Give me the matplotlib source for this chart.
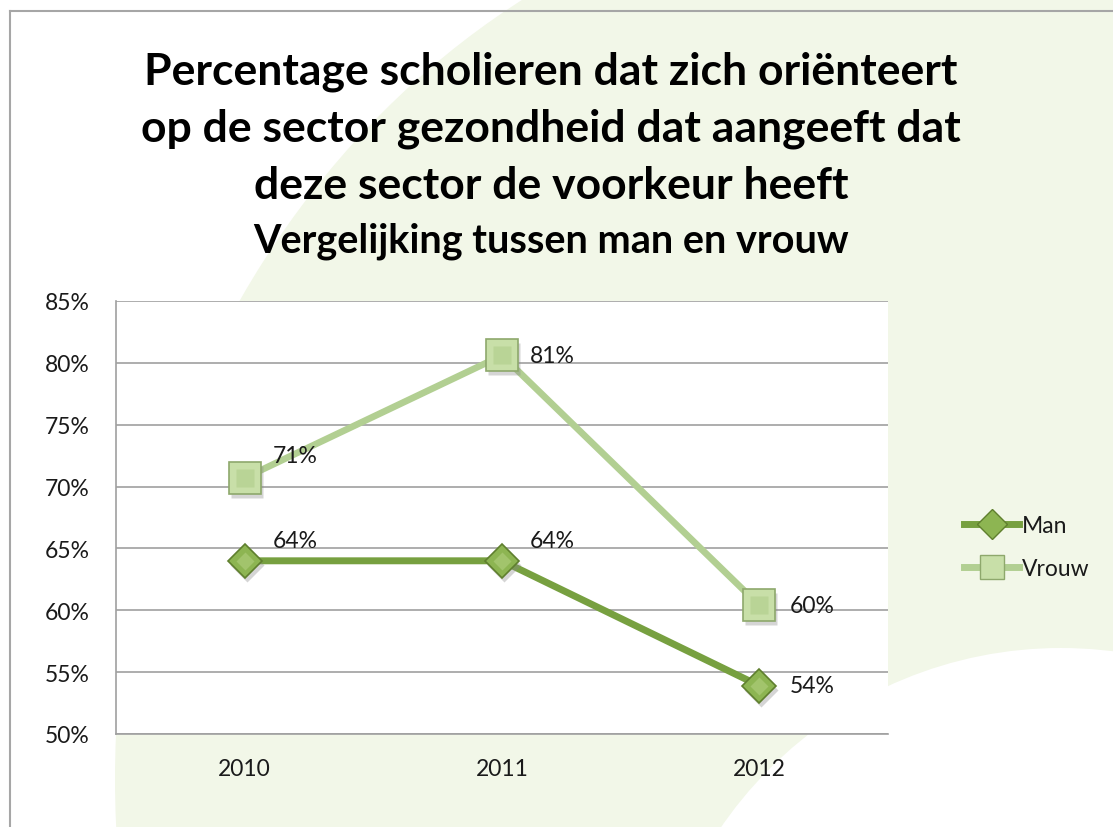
import matplotlib
matplotlib.use('Agg')
import matplotlib.pyplot as plt
from matplotlib.patches import Ellipse, Circle
from matplotlib.lines import Line2D
from matplotlib.transforms import ScaledTranslation

# data
years = ['2010', '2011', '2012']
man = [64.0, 64.0, 53.9]
vrouw = [70.7, 80.6, 60.4]
yticks = [50, 55, 60, 65, 70, 75, 80, 85]

title_lines = ['Percentage scholieren dat zich oriënteert',
               'op de sector gezondheid dat aangeeft dat',
               'deze sector de voorkeur heeft']
subtitle = 'Vergelijking tussen man en vrouw'

plt.rcParams['font.family'] = ['Lato', 'DejaVu Sans']

W, H = 1113, 828
fig = plt.figure(figsize=(W / 100, H / 100), dpi=100)
fig.patch.set_facecolor('white')

# background decoration in pixel coordinates
bg = fig.add_axes([0, 0, 1, 1], zorder=0)
bg.set_xlim(0, W)
bg.set_ylim(H, 0)
bg.axis('off')
bg.add_patch(Ellipse((930, 780), 2 * 815, 2 * 900, color='#f2f7e8', lw=0))
bg.add_patch(Circle((1061, 1061), 412, color='white', lw=0))
bg.plot([10, 10], [12, H], color='#a6a6a6', lw=1.5)
bg.plot([10, W], [12, 12], color='#a6a6a6', lw=1.5)

# titles
ys = [72, 129, 186]
for t, y in zip(title_lines, ys):
    fig.text(551 / W, 1 - y / H, t, ha='center', va='center',
             fontsize=32, fontweight='bold', color='black')
fig.text(551 / W, 1 - 241 / H, subtitle, ha='center', va='center',
         fontsize=28.5, fontweight='bold', color='black')

ax = fig.add_axes([116 / W, 1 - 735 / H, (888 - 116) / W, (735 - 302) / H], zorder=1)
ax.set_facecolor('white')
x = list(range(len(years)))

man_c, man_edge, man_fill, man_in = '#77a040', '#5f7f2e', '#8db552', '#a2c46c'
vr_c, vr_edge, vr_fill, vr_in = '#b2cf92', '#8ea86c', '#c8dfa8', '#b9d496'

ax.plot(x, vrouw, color=vr_c, lw=4.8, solid_capstyle='round', zorder=3)
ax.plot(x, man, color=man_c, lw=5, solid_capstyle='round', zorder=3)

# shadows
shift = ax.transData + ScaledTranslation(2 / 100, -4 / 100, fig.dpi_scale_trans)
ax.plot(x, vrouw, ls='none', marker='s', ms=23, mfc='#888888', mec='none',
        alpha=0.35, zorder=3.5, transform=shift)
ax.plot(x, man, ls='none', marker='D', ms=17, mfc='#888888', mec='none',
        alpha=0.35, zorder=3.5, transform=shift)
# markers with a bevel look
ax.plot(x, vrouw, ls='none', marker='s', ms=23, mfc=vr_fill, mec=vr_edge, mew=1.2, zorder=4)
ax.plot(x, vrouw, ls='none', marker='s', ms=13, mfc=vr_in, mec='none', zorder=4.5)
ax.plot(x, man, ls='none', marker='D', ms=17, mfc=man_fill, mec=man_edge, mew=1.2, zorder=4)
ax.plot(x, man, ls='none', marker='D', ms=9, mfc=man_in, mec='none', zorder=4.5)

# data labels
fs = 16.5
man_off = [(28, 20), (28, 20), (30, 0)]
vr_off = [(28, 22), (28, 0), (30, 0)]
for xi, v, off in zip(x, man, man_off):
    ax.annotate('%d%%' % round(v), (xi, v), xytext=off, textcoords='offset pixels',
                ha='left', va='center', fontsize=fs, color='#1a1a1a', zorder=6)
for xi, v, off in zip(x, vrouw, vr_off):
    ax.annotate('%d%%' % round(v), (xi, v), xytext=off, textcoords='offset pixels',
                ha='left', va='center', fontsize=fs, color='#1a1a1a', zorder=6)

ax.set_xlim(-0.5, len(years) - 0.5)
ax.set_ylim(yticks[0], yticks[-1])
ax.set_xticks(x)
ax.set_xticklabels(years)
ax.set_yticks(yticks)
ax.set_yticklabels(['%d%%' % t for t in yticks])
ax.tick_params(length=0, labelsize=fs, labelcolor='#1a1a1a')
ax.tick_params(axis='y', pad=19)
ax.tick_params(axis='x', pad=17)
ax.grid(axis='y', color='#a0a0a0', lw=1.2)
ax.set_axisbelow(True)
for s in ['top', 'right']:
    ax.spines[s].set_visible(False)
for s in ['left', 'bottom']:
    ax.spines[s].set_color('#a0a0a0')
    ax.spines[s].set_linewidth(1.2)

handles = [Line2D([], [], color=man_c, lw=5, marker='D', ms=15, mfc=man_fill, mec=man_edge),
           Line2D([], [], color=vr_c, lw=5, marker='s', ms=17, mfc=vr_fill, mec=vr_edge)]
fig.legend(handles, ['Man', 'Vrouw'], loc='center left',
           bbox_to_anchor=(953 / W, 1 - 548 / H), frameon=False, fontsize=fs,
           handlelength=2.4, handletextpad=0.1, labelspacing=1.0, borderpad=0,
           labelcolor='#1a1a1a')

fig.savefig('out.png', dpi=100)
